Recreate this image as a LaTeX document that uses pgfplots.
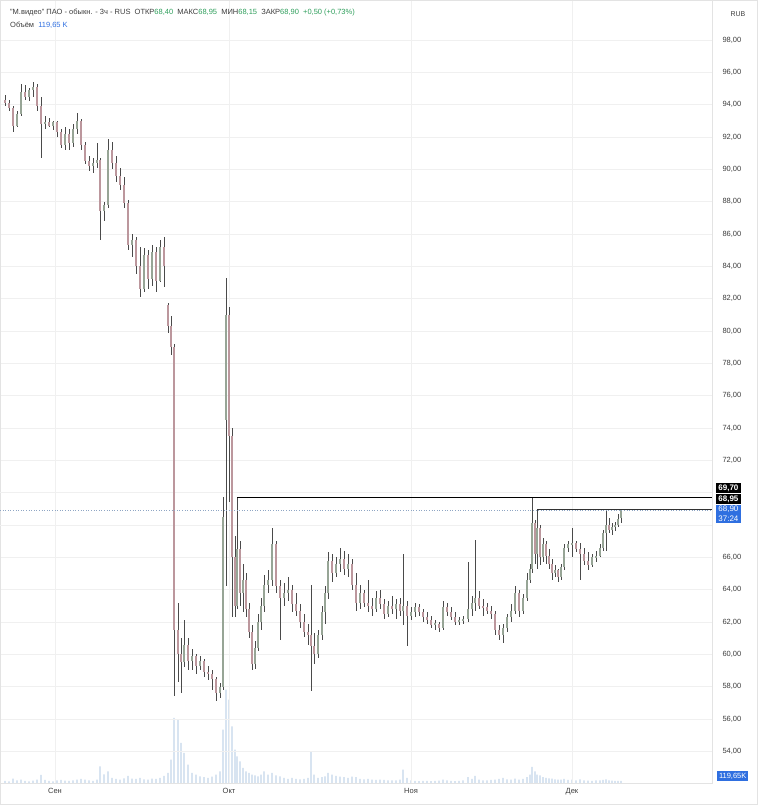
\documentclass[border=0pt]{standalone}
\usepackage{fontspec}
\setmainfont{Liberation Sans}
\usepackage{pgfplots}
\pgfplotsset{compat=1.18}
\usepackage{pgfplotstable}
\definecolor{gridc}{HTML}{F0F0F0}
\definecolor{framec}{HTML}{E3E3E3}
\definecolor{wick}{HTML}{4A4A4A}
\definecolor{upb}{HTML}{97A596}
\definecolor{dnb}{HTML}{BC979D}
\definecolor{volc}{HTML}{C3D5EA}
\definecolor{txtg}{HTML}{3C3C3C}
\definecolor{valg}{HTML}{2E9E5B}
\definecolor{blu}{HTML}{2F6FE0}
\definecolor{dotc}{HTML}{8FA6C4}

\pgfplotstableread{
x o h l c
5 94.3 94.6 93.9 94.1
9 94.1 94.3 93.6 93.8
13 93.8 93.9 92.3 92.7
17 92.7 93.6 92.6 93.4
21 93.4 95.3 93.3 94.8
25 94.8 95.2 94.3 94.5
29 94.5 95.0 94.2 94.9
33 94.9 95.4 94.5 95.1
37 95.1 95.3 93.6 93.9
41 93.9 94.5 90.7 92.8
45 92.8 93.3 92.5 92.9
49 92.9 93.2 92.6 92.7
53 92.7 93.0 92.4 92.9
57 92.9 93.0 92.0 92.3
61 92.3 92.5 91.3 91.5
65 91.5 92.6 91.2 92.2
69 92.2 92.5 91.2 91.6
73 91.6 92.8 91.4 92.5
77 92.5 93.5 92.2 93.0
81 93.0 93.1 91.2 91.5
85 91.5 91.7 90.3 90.5
89 90.5 90.8 89.9 90.2
93 90.2 90.7 89.8 90.4
97 90.4 91.6 90.1 90.6
100 90.6 90.7 85.6 87.4
104 87.4 88.0 86.8 87.8
108 87.8 91.9 87.6 91.2
112 91.2 91.7 90.0 90.4
116 90.4 90.8 89.2 89.6
120 89.6 90.1 88.7 89.0
124 89.0 89.5 87.6 87.9
128 87.9 88.1 85.0 85.3
132 85.3 86.0 84.6 85.6
136 85.6 85.8 83.5 84.0
140 84.0 85.2 82.1 82.6
144 82.6 85.1 82.4 84.7
148 84.7 85.0 82.6 83.2
152 83.2 85.3 82.8 84.9
156 84.9 85.2 82.4 83.1
160 83.1 85.6 83.0 85.2
164 85.2 85.8 82.7 84.0
168 81.6 81.7 79.9 80.3
171 80.3 80.9 78.5 79.0
174 79.0 79.2 57.4 61.5
178 61.5 63.2 58.3 60.0
181 60.0 61.0 57.6 59.5
184 59.5 62.1 59.2 60.6
188 60.6 61.0 59.0 59.6
192 59.6 60.3 59.0 59.9
196 59.9 60.0 58.8 59.3
200 59.3 59.9 59.0 59.6
204 59.6 59.7 58.6 58.9
208 58.9 59.3 58.4 58.8
212 58.8 59.0 57.8 58.5
216 58.5 58.6 57.1 57.6
220 57.6 58.2 57.3 58.0
223 58.0 69.7 57.8 68.5
226 74.5 83.3 64.2 81.0
229 81.0 81.5 69.4 73.5
232 73.5 74.0 62.3 66.0
235 66.0 67.3 62.3 63.0
237 63.0 69.7 62.8 66.5
240 66.5 67.0 63.0 63.8
243 63.8 65.6 62.6 64.6
246 64.6 65.0 62.3 62.8
249 62.8 63.2 61.0 61.4
252 61.4 61.8 59.0 59.4
255 59.4 60.8 59.1 60.4
258 60.4 62.5 60.2 62.0
261 62.0 63.5 61.5 63.0
264 63.0 64.9 62.6 64.3
268 64.3 65.2 63.8 64.6
272 64.6 67.8 64.2 66.8
276 66.8 67.0 63.8 64.2
280 64.2 64.6 60.9 63.5
284 63.5 64.4 63.0 63.8
288 63.8 64.8 63.3 64.0
292 64.0 64.3 62.6 63.1
296 63.1 63.8 62.4 62.7
300 62.7 63.1 61.6 62.0
304 62.0 62.5 61.1 61.4
308 61.4 61.9 60.6 61.2
311 61.2 64.3 57.7 60.5
314 60.5 61.3 59.4 60.0
318 60.0 61.5 59.8 61.2
322 61.2 63.0 60.9 62.6
325 62.6 64.2 61.9 63.8
328 63.8 66.3 63.4 65.8
332 65.8 66.2 64.5 65.0
336 65.0 66.0 64.8 65.6
340 65.6 66.6 65.1 65.9
344 65.9 66.4 64.9 65.3
348 65.3 66.2 64.8 65.6
352 65.6 65.9 64.0 64.3
356 64.3 65.0 62.7 63.2
360 63.2 64.3 62.8 63.8
364 63.8 64.0 62.9 63.2
368 63.2 64.6 62.6 63.0
372 63.0 63.5 62.4 62.8
376 62.8 63.9 62.6 63.5
380 63.5 64.0 62.8 63.1
384 63.1 63.4 62.2 62.5
388 62.5 63.3 62.3 63.0
392 63.0 63.6 62.5 62.8
396 62.8 63.4 62.2 63.1
400 63.1 63.5 62.4 62.7
403 62.7 66.2 61.8 63.0
407 63.0 63.3 60.5 62.4
411 62.4 62.9 62.1 62.6
415 62.6 63.2 62.3 62.9
419 62.9 63.1 62.4 62.6
423 62.6 62.8 62.0 62.3
427 62.3 62.6 61.9 62.1
431 62.1 62.4 61.6 61.8
435 61.8 62.1 61.5 61.9
439 61.9 62.0 61.4 61.6
443 61.6 63.3 61.5 62.9
447 62.9 63.2 62.4 62.6
451 62.6 62.9 62.1 62.3
455 62.3 62.6 61.8 62.0
459 62.0 62.3 61.8 62.1
463 62.1 62.4 61.9 62.2
468 62.2 65.7 62.0 62.8
472 62.8 63.6 62.4 63.2
475 63.2 67.1 62.7 63.5
479 63.5 63.9 62.8 63.0
483 63.0 63.4 62.4 62.9
487 62.9 63.2 62.5 62.7
491 62.7 63.0 62.2 62.5
495 62.5 62.7 61.2 61.5
499 61.5 61.8 60.9 61.2
503 61.2 61.9 60.7 61.6
507 61.6 62.5 61.4 62.3
511 62.3 63.1 62.0 62.7
515 62.7 64.2 62.5 63.8
519 63.8 64.0 62.3 62.7
523 62.7 63.7 62.5 63.5
527 63.5 65.0 63.3 64.6
530 64.6 65.6 64.4 65.3
532 65.3 69.7 65.0 68.1
535 68.1 68.3 65.6 66.2
537 66.2 68.95 65.3 67.8
540 67.8 68.0 65.5 66.0
543 66.0 67.2 65.7 66.8
546 66.8 67.0 65.6 66.1
549 66.1 66.5 65.3 65.6
552 65.6 65.9 64.6 65.0
555 65.0 65.5 64.8 65.2
558 65.2 65.3 64.5 64.8
561 64.8 65.6 64.6 65.4
564 65.4 66.8 65.2 66.6
568 66.6 67.0 66.3 66.8
572 66.8 67.8 66.0 66.9
576 66.9 67.0 66.3 66.5
580 66.5 66.9 64.6 66.2
584 66.2 66.6 65.5 65.8
588 65.8 66.3 65.2 65.5
592 65.5 66.2 65.4 66.0
596 66.0 66.4 65.7 66.1
600 66.1 66.8 66.0 66.6
603 66.6 67.7 66.4 67.5
606 67.5 68.95 66.4 68.0
609 68.0 68.4 67.5 67.7
612 67.7 68.1 67.4 67.9
615 67.9 68.2 67.6 68.0
618 68.0 68.7 67.9 68.4
621 68.40 68.95 68.15 68.90
}\candles

\pgfplotstableread{
x v
5 120
9 100
13 260
17 150
21 200
25 120
29 100
33 140
37 200
41 480
45 180
49 120
53 100
57 150
61 180
65 140
69 120
73 150
77 200
81 240
85 200
89 150
93 130
97 200
100 1000
104 520
108 700
112 300
116 250
120 200
124 280
128 420
132 260
136 240
140 300
144 220
148 200
152 260
156 240
160 300
164 420
168 600
171 1400
174 3900
178 3800
181 2400
184 1800
188 1100
192 600
196 500
200 400
204 350
208 300
212 380
216 500
220 700
223 3200
226 5600
229 5000
232 3400
235 2000
237 1600
240 1300
243 900
246 700
249 600
252 500
255 450
258 400
261 500
264 700
268 500
272 600
276 450
280 400
284 300
288 250
292 300
296 250
300 220
304 250
308 300
311 1860
314 500
318 300
322 350
325 400
328 600
332 500
336 420
340 380
344 350
348 300
352 380
356 350
360 250
364 220
368 250
372 200
376 180
380 200
384 180
388 150
392 160
396 150
400 200
403 800
407 300
411 150
415 120
419 110
423 130
427 120
431 110
435 120
439 140
443 200
447 150
451 120
455 110
459 120
463 150
468 350
472 250
475 420
479 200
483 160
487 150
491 180
495 200
499 250
503 300
507 220
511 200
515 260
519 200
523 240
527 350
530 500
532 960
535 700
537 500
540 450
543 350
546 300
549 280
552 260
555 220
558 200
561 200
564 250
568 180
572 200
576 160
580 220
584 150
588 140
592 130
596 150
600 160
603 180
606 220
609 150
612 140
615 130
618 125
621 120
}\volumes

\begin{document}
\begin{tikzpicture}[x=1pt,y=1pt]
\useasboundingbox (0,0) rectangle (758,805);
\draw[framec, line width=0.8pt] (0.4,0.4) rectangle (757.6,804.6);

% volume pane
\begin{axis}[at={(0pt,22pt)}, anchor=south west, width=712pt, height=783pt, scale only axis,
  xmin=0, xmax=712, ymin=0, ymax=46980, hide axis]
\addplot[ybar, bar width=1.3pt, bar shift=0pt, fill=volc, draw=none] table[x=x,y=v]{\volumes};
\end{axis}

% price pane
\begin{axis}[at={(0pt,22pt)}, anchor=south west, width=712pt, height=783pt, scale only axis,
  xmin=0, xmax=712, ymin=52.04, ymax=100.47,
  axis line style={draw=framec},
  xtick={55,229,411,572}, xticklabels={Сен,Окт,Ноя,Дек},
  ytick={54,56,58,60,62,64,66,72,74,76,78,80,82,84,86,88,90,92,94,96,98},
  extra y ticks={68,70}, extra y tick labels={},
  extra y tick style={grid=major},
  yticklabel pos=right,
  major tick length=0pt,
  grid=major, grid style={gridc, line width=0.6pt},
  tick label style={font=\fontsize{7.5}{9}\selectfont, text=txtg},
  /pgf/number format/assume math mode=true,
  yticklabel={\pgfmathprintnumber[fixed,fixed zerofill,precision=2,use comma]{\tick}},
  yticklabel style={anchor=west, xshift=7pt},
  xticklabel style={yshift=-1.5pt},
]
% wicks
\addplot[draw=none, no markers,
  error bars/.cd, y dir=both, y explicit, error mark=none,
  error bar style={draw=wick, line width=0.6pt}]
  table[x=x, y=c, y error plus expr={\thisrow{h}-\thisrow{c}}, y error minus expr={\thisrow{c}-\thisrow{l}}] {\candles};
% up bodies
\addplot[draw=none, no markers,
  restrict expr to domain={\thisrow{c}-\thisrow{o}}{0:100},
  error bars/.cd, y dir=both, y explicit, error mark=none,
  error bar style={draw=upb, line width=1.7pt}]
  table[x=x, y expr={(\thisrow{o}+\thisrow{c})/2}, y error expr={max(abs(\thisrow{c}-\thisrow{o})/2,0.06)}] {\candles};
% down bodies
\addplot[draw=none, no markers,
  restrict expr to domain={\thisrow{c}-\thisrow{o}}{-100:-0.001},
  error bars/.cd, y dir=both, y explicit, error mark=none,
  error bar style={draw=dnb, line width=1.7pt}]
  table[x=x, y expr={(\thisrow{o}+\thisrow{c})/2}, y error expr={max(abs(\thisrow{c}-\thisrow{o})/2,0.06)}] {\candles};
% current price line and rays
\addplot[dotc, dotted, line width=0.6pt] coordinates {(0,68.9) (712,68.9)};
\addplot[black, line width=1pt] coordinates {(237,69.7) (712,69.7)};
\addplot[black!80, line width=0.7pt] coordinates {(537,68.95) (712,68.95)};
\end{axis}

% price scale labels
\node[fill=black, text=white, inner xsep=2.2pt, inner ysep=1.6pt, anchor=west, font=\fontsize{8}{9}\selectfont\bfseries] at (716,317) {69,70};
\node[fill=black, text=white, inner xsep=2.2pt, inner ysep=1.6pt, anchor=west, font=\fontsize{8}{9}\selectfont\bfseries] at (716,306) {68,95};
\node[fill=blu, text=white, inner xsep=2.2pt, inner ysep=1.4pt, anchor=west, align=center, font=\fontsize{8}{10}\selectfont] at (716,291) {68,90\\37:24};
\node[fill=blu, text=white, inner sep=1.8pt, anchor=west, font=\fontsize{7.5}{9}\selectfont] at (717,29) {119,65K};
\node[text=txtg, anchor=center, font=\fontsize{7}{8}\selectfont] at (738,791) {RUB};

% header
\node[anchor=west, inner sep=0pt, text=txtg, font=\fontsize{7.5}{9}\selectfont] at (10,792)
 {"М.видео" ПАО - обыкн. - 3ч - RUS\ \ ОТКР\textcolor{valg}{68,40}\ \ МАКС\textcolor{valg}{68,95}\ \ МИН\textcolor{valg}{68,15}\ \ ЗАКР\textcolor{valg}{68,90}\ \ \textcolor{valg}{+0,50 (+0,73\%)}};
\node[anchor=west, inner sep=0pt, text=txtg, font=\fontsize{7.5}{9}\selectfont] at (10,780)
 {Объём\ \ \textcolor{blu}{119,65 K}};
\end{tikzpicture}
\end{document}
